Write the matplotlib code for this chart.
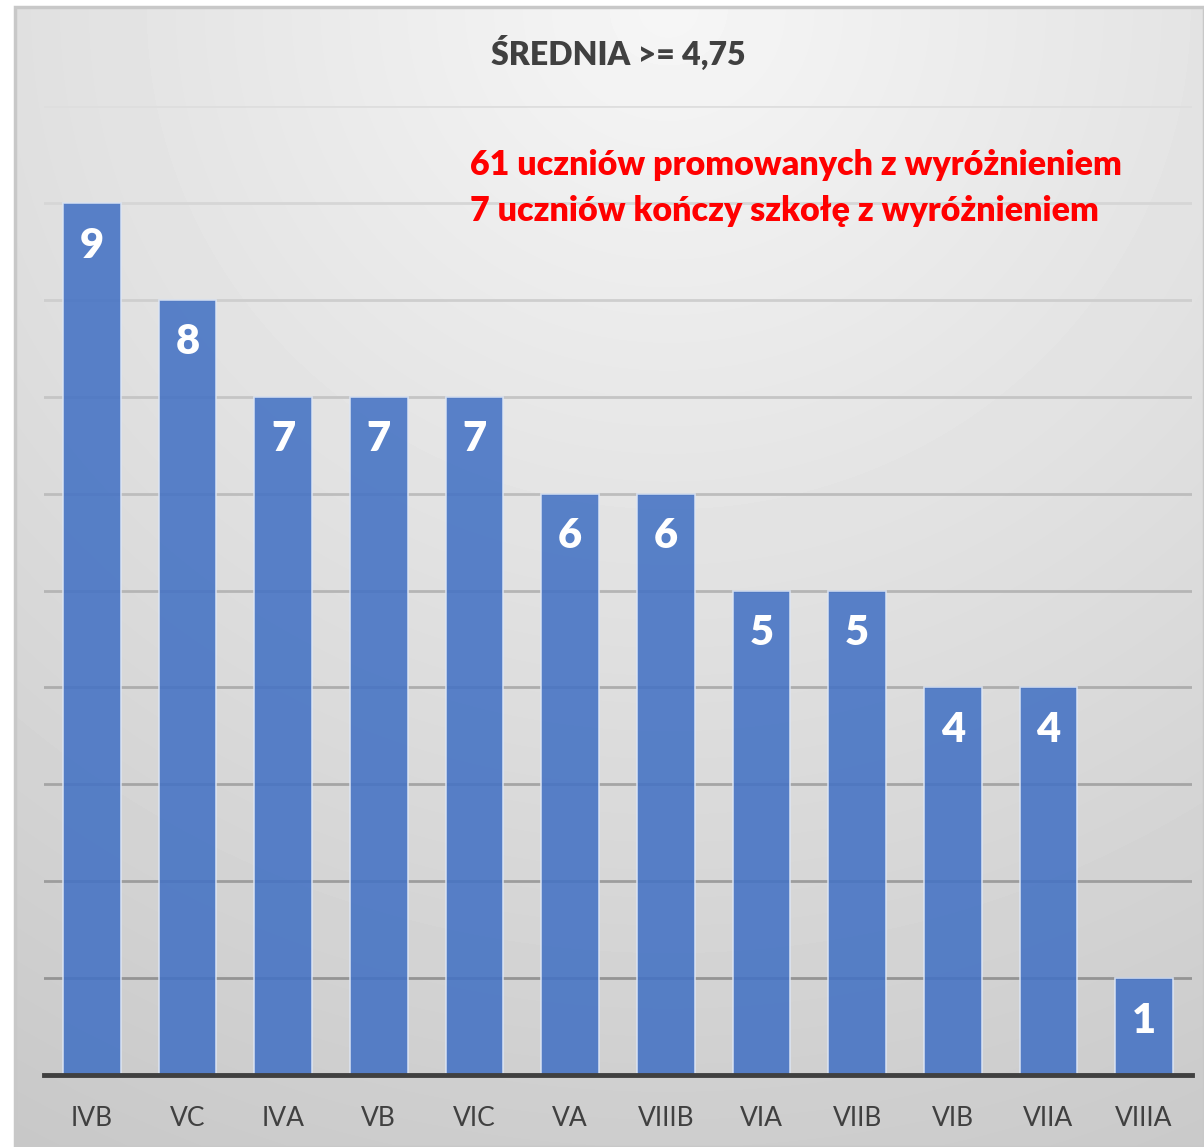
import numpy as np
import matplotlib
matplotlib.use('Agg')
import matplotlib.pyplot as plt
from matplotlib.patches import Rectangle

plt.rcParams['font.family'] = ['Lato', 'DejaVu Sans']

# Dane
klasy = ['IVB', 'VC', 'IVA', 'VB', 'VIC', 'VA', 'VIIIB', 'VIA', 'VIIB', 'VIB', 'VIIA', 'VIIIA']
liczba = [9, 8, 7, 7, 7, 6, 6, 5, 5, 4, 4, 1]
tytul = 'ŚREDNIA >= 4,75'
opis = ['61 uczniów promowanych z wyróżnieniem',
        '7 uczniów kończy szkołę z wyróżnieniem']

W, H = 1204, 1147
fig = plt.figure(figsize=(W / 100, H / 100), dpi=100)

# Tło z gradientem radialnym (jak w Excelu)
bg = fig.add_axes([15 / W, 0, 1 - 15 / W, 1 - 7 / H])
ny, nx = 300, 300
yy, xx = np.mgrid[0:1:ny * 1j, 0:1:nx * 1j]
d = np.sqrt(((xx - 0.55) / 1.0) ** 2 + (yy / 1.0) ** 2)
img = 0.965 - 0.16 * np.clip(d, 0, 1.3)
bg.imshow(img, cmap='gray', vmin=0, vmax=1, aspect='auto',
          extent=[0, 1, 1, 0], interpolation='bilinear')
bg.set_xlim(0, 1); bg.set_ylim(1, 0)
bg.axis('off')
bg.add_patch(Rectangle((0, 0), 1, 1, transform=bg.transAxes, fill=False,
                       edgecolor='#c8c8c8', lw=2.5, clip_on=False))

# Wykres
ax = fig.add_axes([44 / W, 72 / H, (1192 - 44) / W, (1075 - 106) / H])
ax.set_facecolor('none')
x = np.arange(len(klasy))
bars = ax.bar(x, liczba, width=0.6, color='#4472C4', alpha=0.88,
              edgecolor='#dde6f5', linewidth=1.2, zorder=3)
for b, v in zip(bars, liczba):
    ax.text(b.get_x() + b.get_width() / 2, v - 0.44, str(v), ha='center',
            va='center', color='white', fontsize=30, fontweight='heavy', zorder=4)

ax.set_xlim(-0.5, len(klasy) - 0.5)
ax.set_ylim(0, 10)
ax.set_yticks(np.arange(1, 11))
ax.set_yticklabels([])
ax.tick_params(axis='y', length=0)
ax.tick_params(axis='x', length=0, pad=22, labelsize=19, labelcolor='#404040')
ax.set_xticks(x)
ax.set_xticklabels(klasy)

# Linie siatki - ciemniejsze ku dołowi
for val in range(1, 11):
    t = val / 10
    c = 0.55 + 0.32 * t
    ax.axhline(val, color=(c, c, c), lw=2, zorder=1)

for s in ['top', 'right', 'left']:
    ax.spines[s].set_visible(False)
ax.spines['bottom'].set_color('#404040')
ax.spines['bottom'].set_linewidth(3.5)
ax.spines['bottom'].set_zorder(5)

fig.text(618 / W, 1 - 52 / H, tytul, ha='center', va='center',
         fontsize=23, fontweight='heavy', color='#404040')
fig.text(470 / W, 1 - 165 / H, opis[0], ha='left', va='center',
         fontsize=24.5, fontweight='heavy', color='#ff0000')
fig.text(470 / W, 1 - 211 / H, opis[1], ha='left', va='center',
         fontsize=24.5, fontweight='heavy', color='#ff0000')

fig.savefig('out.png', dpi=100, facecolor='white')
